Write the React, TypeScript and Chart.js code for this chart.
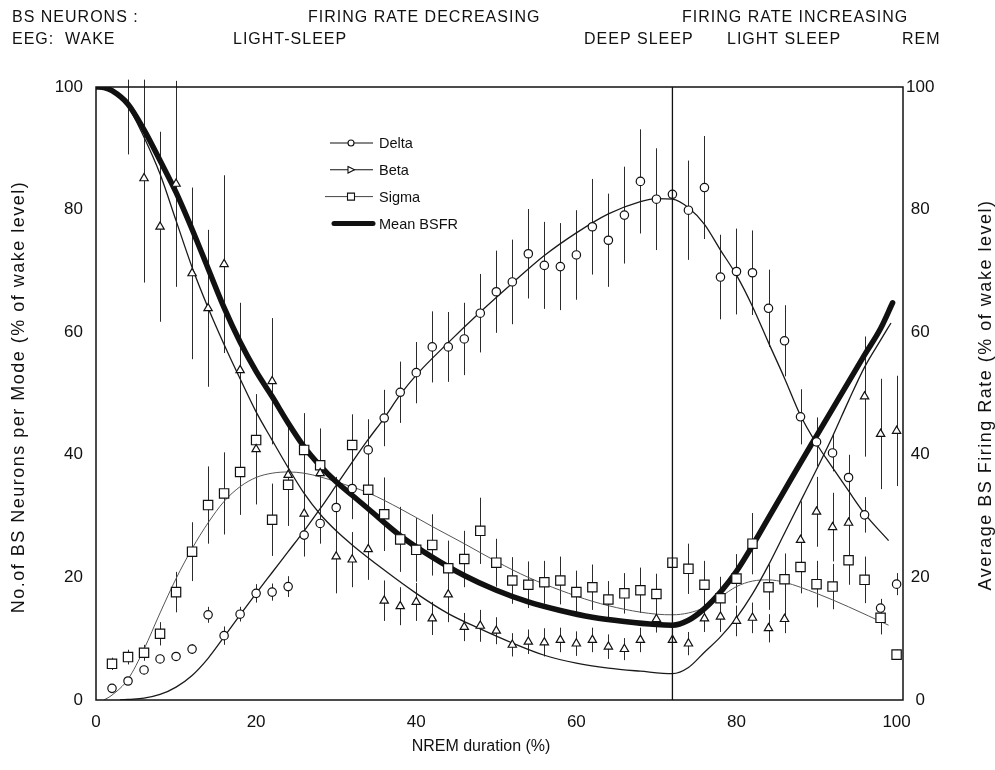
import React, { useEffect, useRef } from 'react';
import { Chart, registerables } from 'chart.js';

Chart.register(...registerables);

const FONT = '"Liberation Sans", Arial, Helvetica, sans-serif';

// NREM duration bins (% of episode)
const nremPct = [
  2, 4, 6, 8, 10, 12, 14, 16, 18, 20, 22, 24, 26, 28, 30, 32, 34, 36, 38, 40, 42, 44, 46, 48, 50,
  52, 54, 56, 58, 60, 62, 64, 66, 68, 70, 72, 74, 76, 78, 80, 82, 84, 86, 88, 90, 92, 94, 96, 98, 100,
];

// Delta-mode neurons (% of wake level) and error
const deltaMean = [
  1.9, 3.1, 4.9, 6.7, 7.1, 8.3, 13.9, 10.5, 14.0, 17.4, 17.6, 18.5, 26.9, 28.8, 31.4, 34.5, 40.8, 46.0, 50.2, 53.4, 57.6, 57.6, 58.9, 63.1, 66.6,
  68.2, 72.8, 70.9, 70.7, 72.6, 77.2, 75.0, 79.1, 84.6, 81.7, 82.5, 79.9, 83.6, 69.0, 69.9, 69.7, 63.9, 58.6, 46.2, 42.1, 40.3, 36.3, 30.2, 15.0, 18.9,
];
const deltaErr = [
  0.5, 0.5, 0.7, 0.7, 0.6, 0.8, 1.3, 1.5, 1.2, 1.5, 1.4, 1.7, 3.3, 3.3, 5.0, 5.0, 5.0, 4.6, 5.0, 5.0, 5.8, 5.7, 5.9, 6.4, 6.7,
  6.9, 7.3, 7.1, 7.1, 7.3, 7.8, 7.6, 7.9, 8.5, 8.3, 8.0, 8.1, 8.4, 6.9, 7.0, 6.9, 6.3, 5.8, 4.5, 4.0, 3.0, 3.7, 2.9, 1.5, 1.8,
];

// Beta-mode neurons
const betaMean = [
  null, 103, 85.1, 77.2, 84.2, 69.6, 63.9, 71.1, 53.8, 40.9, 52.0, 36.7, 30.4, 37.0, 23.4, 22.9, 24.6, 16.2, 15.3, 16.0, 13.3, 17.2, 11.9, 12.1, 11.3,
  9.0, 9.5, 9.4, 9.8, 9.2, 9.8, 8.7, 8.3, 9.8, 13.2, 9.8, 9.2, 13.3, 13.6, 12.9, 13.4, 11.7, 13.2, 26.1, 30.7, 28.2, 28.9, 49.5, 43.4, 43.9,
];
const betaErr = [
  null, 14, 17, 15.5, 16.8, 14, 12.8, 14.5, 11, 9, 10.3, 8.3, 7, 7, 6, 4.5, 5, 3.3, 3.1, 3.1, 2.7, 4.5, 2.3, 2.6, 2.2,
  1.9, 2, 2.3, 2, 2, 2, 2, 1.8, 2, 2.2, 2, 1.9, 2.2, 2.5, 2.5, 2.5, 2.3, 2.3, 6.3, 5.7, 5.6, 4.9, 9.8, 9, 9,
];

// Sigma-mode neurons
const sigmaMean = [
  5.9, 7.0, 7.7, 10.8, 17.6, 24.2, 31.8, 33.7, 37.2, 42.4, 29.4, 35.1, 40.8, 38.3, null, 41.6, 34.3, 30.3, 26.2, 24.5, 25.3, 21.5, 23.0, 27.6, 22.4,
  19.5, 18.8, 19.2, 19.5, 17.6, 18.4, 16.4, 17.4, 17.9, 17.3, 22.4, 21.4, 18.8, 16.6, 19.8, 25.5, 18.4, 19.7, 21.7, 18.9, 18.5, 22.8, 19.6, 13.4, 7.4,
];
const sigmaErr = [
  1, 1.2, 1.3, 1.9, 3.3, 4.8, 6.3, 6.7, 7, 6, 5.9, 6, 6, 6, null, 5, 5, 6, 5.3, 5.2, 5, 4.5, 4.6, 5.4, 3.9,
  3.8, 3.8, 3.5, 3.9, 3.5, 3.7, 3, 3.3, 3.7, 3.3, 5, 4.1, 3.9, 3.5, 4, 5, 3.7, 4.2, 4.3, 3.8, 3.7, 4, 3.8, 2.7, 0.8,
];

// Fitted trends [x, y]
const deltaFit = [
  [3, 0], [4, 0.1], [6, 0.3], [8, 0.9], [10, 2.1], [12, 4], [14, 6.8], [16, 10.3], [18, 13.9], [20, 17.4], [22, 20.8],
  [24, 24.2], [26, 27.6], [28, 31.2], [30, 35], [32, 38.8], [34, 42.5], [36, 46], [38, 49.8], [40, 53], [44, 58.3],
  [48, 63.3], [52, 68], [56, 72.5], [60, 76.2], [64, 79.3], [68, 81.3], [70, 81.8], [72, 81.7], [74, 80.3], [76, 77.6],
  [78, 73.4], [80, 69.3], [82, 64.2], [84, 58.3], [86, 52.5], [88, 46.4], [90, 41.8], [92, 37.9], [94, 34.1], [96, 30.4], [99, 26],
];
const betaFit = [
  [0, 100], [2, 99.2], [4, 96.8], [6, 91.8], [8, 85.8], [10, 78.2], [12, 70.6], [14, 64], [16, 58], [18, 52.4], [20, 47],
  [22, 42.4], [24, 37.9], [26, 33.7], [28, 30.3], [30, 27.6], [32, 25.3], [36, 21.2], [40, 17.4], [44, 14.1], [48, 11.6],
  [52, 9.3], [56, 7.3], [60, 6], [64, 5.2], [68, 4.7], [72, 4.3], [74, 5.3], [76, 7.8], [78, 10.3], [80, 13.4], [82, 17.3],
  [84, 22], [86, 27.2], [88, 32.4], [90, 37.6], [92, 43], [94, 48.8], [96, 54.3], [98, 58.7], [99.3, 61.5],
];
const sigmaFit = [
  [1, 0], [2, 0.8], [4, 3.4], [6, 8.3], [8, 14.2], [10, 19.8], [12, 24.7], [14, 28.9], [16, 32.4], [18, 34.8], [20, 36.3],
  [22, 37], [24, 37.2], [26, 37], [28, 36.4], [30, 35.6], [34, 33.8], [38, 31.2], [42, 28.3], [46, 25.5], [50, 22.6],
  [54, 20], [58, 17.9], [62, 16.1], [66, 14.8], [70, 14], [72, 13.9], [74, 14.2], [76, 15.1], [78, 16.8], [80, 18.5],
  [82, 19.4], [84, 19.6], [86, 19.2], [90, 17.4], [94, 15.2], [99, 12.2],
];
// Mean brainstem firing rate (% of wake level)
const bsfrFit = [
  [0, 100], [1, 99.9], [2, 99.4], [4, 97.2], [6, 93], [8, 88], [10, 82.8], [12, 76.8], [14, 70.4], [16, 64], [18, 58.4],
  [20, 53.6], [22, 49.5], [24, 45.2], [26, 41.3], [28, 38.2], [30, 35.6], [32, 33.4], [34, 31.2], [38, 26.8], [42, 23.3],
  [46, 20.3], [50, 17.9], [54, 16], [58, 14.6], [62, 13.5], [66, 12.8], [70, 12.3], [72, 12.2], [74, 13], [76, 14.9],
  [78, 17.6], [80, 21], [82, 25.2], [84, 29.7], [86, 34.2], [88, 38.7], [90, 43.1], [92, 47.5], [94, 51.9], [96, 56.3],
  [98, 60.6], [99.5, 64.8],
];

const stageBoundary = 72;
const yTicks = [0, 20, 40, 60, 80, 100];

const headerRows = [
  [
    { text: 'BS NEURONS :', x: 12 },
    { text: 'FIRING RATE DECREASING', x: 308 },
    { text: 'FIRING RATE INCREASING', x: 682 },
  ],
  [
    { text: 'EEG:', x: 12 },
    { text: 'WAKE', x: 65 },
    { text: 'LIGHT-SLEEP', x: 233 },
    { text: 'DEEP SLEEP', x: 584 },
    { text: 'LIGHT SLEEP', x: 727 },
    { text: 'REM', x: 902 },
  ],
];

const legendItems = [
  { label: 'Delta', marker: 'circle' },
  { label: 'Beta', marker: 'triangleRight' },
  { label: 'Sigma', marker: 'square' },
  { label: 'Mean BSFR', marker: 'thick' },
];

const toPoints = (ys: (number | null)[]) => nremPct.map((x, i) => ({ x, y: ys[i] }));
const toXY = (pairs: number[][]) => pairs.map(([x, y]) => ({ x, y }));

const errorBars = {
  id: 'errorBars',
  beforeDatasetsDraw(chart: any) {
    const { ctx, chartArea, scales } = chart;
    const x = scales.x;
    const y = scales.y;
    const capTop = y.getPixelForValue(101.2);
    ctx.save();
    ctx.strokeStyle = '#2b2b2b';
    ctx.lineWidth = 1;
    chart.data.datasets.forEach((ds: any) => {
      if (!ds.errors) return;
      ds.data.forEach((p: any, i: number) => {
        const e = ds.errors[i];
        if (p.y == null || e == null) return;
        const px = Math.round(x.getPixelForValue(p.x)) + 0.5;
        const top = Math.max(y.getPixelForValue(p.y + e), capTop);
        const bot = Math.min(y.getPixelForValue(p.y - e), chartArea.bottom);
        if (top >= bot) return;
        ctx.beginPath();
        ctx.moveTo(px, top);
        ctx.lineTo(px, bot);
        ctx.stroke();
      });
    });
    ctx.restore();
  },
};

function drawText(ctx: CanvasRenderingContext2D, text: string, x: number, cy: number, size: number, opts: any = {}) {
  ctx.save();
  ctx.font = `${size}px ${FONT}`;
  ctx.fillStyle = '#111';
  (ctx as any).letterSpacing = opts.spacing || '0px';
  ctx.textAlign = opts.align || 'left';
  ctx.textBaseline = 'alphabetic';
  ctx.translate(x, cy);
  if (opts.rotate) ctx.rotate(opts.rotate);
  ctx.fillText(text, 0, size * 0.358);
  ctx.restore();
}

const decorations = {
  id: 'decorations',
  afterDraw(chart: any) {
    const { ctx, chartArea, scales } = chart;
    const x = scales.x;
    const { left, right, top, bottom } = chartArea;

    ctx.save();
    // frame
    ctx.strokeStyle = '#111';
    ctx.lineWidth = 1.5;
    ctx.strokeRect(left, top, right - left, bottom - top);
    // sleep-stage boundary
    const bx = x.getPixelForValue(stageBoundary);
    ctx.lineWidth = 1.3;
    ctx.beginPath();
    ctx.moveTo(bx, top);
    ctx.lineTo(bx, bottom);
    ctx.stroke();
    ctx.restore();

    // header rows
    headerRows.forEach((row, r) => {
      row.forEach((item) => drawText(ctx, item.text, item.x, r === 0 ? 16 : 38, 16, { spacing: '1px' }));
    });

    // axis titles
    drawText(ctx, 'NREM duration (%)', 481, 745, 16, { align: 'center' });
    drawText(ctx, 'No.of BS Neurons per Mode (% of wake level)', 18, 397, 18, { align: 'center', rotate: -Math.PI / 2, spacing: '1.5px' });
    drawText(ctx, 'Average BS Firing Rate (% of wake level)', 985, 395, 18, { align: 'center', rotate: -Math.PI / 2, spacing: '1.5px' });

    // legend
    const lx0 = 330;
    const lx1 = 373;
    const markX = 351;
    legendItems.forEach((item, i) => {
      const ly = 143 + i * 26.8;
      ctx.save();
      ctx.strokeStyle = '#111';
      ctx.fillStyle = '#fff';
      if (item.marker === 'thick') {
        ctx.lineWidth = 5;
        ctx.lineCap = 'round';
        ctx.beginPath();
        ctx.moveTo(lx0 + 4, ly);
        ctx.lineTo(lx1, ly);
        ctx.stroke();
      } else {
        ctx.lineWidth = item.marker === 'square' ? 1 : 1.1;
        if (item.marker === 'square') ctx.strokeStyle = '#444';
        ctx.beginPath();
        ctx.moveTo(item.marker === 'square' ? lx0 - 5 : lx0, ly);
        ctx.lineTo(lx1, ly);
        ctx.stroke();
        ctx.strokeStyle = '#111';
        ctx.lineWidth = 1.1;
        ctx.beginPath();
        if (item.marker === 'circle') {
          ctx.arc(markX, ly, 3, 0, Math.PI * 2);
        } else if (item.marker === 'triangleRight') {
          ctx.moveTo(markX - 3, ly - 3.2);
          ctx.lineTo(markX + 3.5, ly);
          ctx.lineTo(markX - 3, ly + 3.2);
          ctx.closePath();
        } else {
          ctx.rect(markX - 3.5, ly - 3.5, 7, 7);
        }
        ctx.fill();
        ctx.stroke();
      }
      ctx.restore();
      drawText(ctx, item.label, 379, ly, 14.5);
    });
  },
};

const markerStyle = {
  showLine: false,
  backgroundColor: '#ffffff',
  borderColor: '#111111',
  pointBorderWidth: 1.2,
  pointBackgroundColor: '#ffffff',
  pointBorderColor: '#111111',
};

const fitStyle = {
  showLine: true,
  pointRadius: 0,
  pointHoverRadius: 0,
  fill: false,
  cubicInterpolationMode: 'monotone' as const,
};

export default function App() {
  const canvasRef = useRef<HTMLCanvasElement | null>(null);

  useEffect(() => {
    const canvas = canvasRef.current;
    if (!canvas) return;
    const tickFont = { family: FONT, size: 17 };
    const chart = new Chart(canvas, {
      type: 'scatter',
      data: {
        datasets: [
          { label: 'Delta', data: toPoints(deltaMean), errors: deltaErr, pointStyle: 'circle', pointRadius: 4.2, ...markerStyle } as any,
          { label: 'Beta', data: toPoints(betaMean), errors: betaErr, pointStyle: 'triangle', pointRadius: 4.8, ...markerStyle } as any,
          { label: 'Sigma', data: toPoints(sigmaMean), errors: sigmaErr, pointStyle: 'rect', pointRadius: 6.6, ...markerStyle } as any,
          { label: 'Mean BSFR', data: toXY(bsfrFit), yAxisID: 'y2', borderColor: '#111', borderWidth: 5.5, borderCapStyle: 'round', ...fitStyle } as any,
          { label: 'Delta fit', data: toXY(deltaFit), borderColor: '#1a1a1a', borderWidth: 1.3, ...fitStyle } as any,
          { label: 'Beta fit', data: toXY(betaFit), borderColor: '#1a1a1a', borderWidth: 1.3, ...fitStyle } as any,
          { label: 'Sigma fit', data: toXY(sigmaFit), borderColor: '#555', borderWidth: 1, ...fitStyle } as any,
        ],
      },
      options: {
        responsive: false,
        animation: false,
        devicePixelRatio: 1,
        layout: { padding: { top: 87, left: 0, right: 0, bottom: 0 } },
        plugins: {
          legend: { display: false },
          tooltip: { enabled: false },
        },
        scales: {
          x: {
            type: 'linear',
            min: 0,
            max: 100.8,
            afterFit: (s: any) => { s.height = 70; },
            grid: { display: false, drawTicks: false },
            border: { display: false },
            ticks: { stepSize: 20, includeBounds: false, font: tickFont, color: '#111', padding: 12, maxRotation: 0 },
          },
          y: {
            type: 'linear',
            position: 'left',
            min: 0,
            max: 100,
            afterFit: (s: any) => { s.width = 96; },
            afterBuildTicks: (s: any) => { s.ticks = yTicks.map((v) => ({ value: v })); },
            grid: { display: false, drawTicks: false },
            border: { display: false },
            ticks: { font: tickFont, color: '#111', padding: 13 },
          },
          y2: {
            type: 'linear',
            position: 'right',
            min: 0,
            max: 100,
            afterFit: (s: any) => { s.width = 92; },
            afterBuildTicks: (s: any) => { s.ticks = yTicks.map((v) => ({ value: v })); },
            grid: { display: false, drawTicks: false },
            border: { display: false },
            ticks: { font: tickFont, color: '#111', padding: 3, crossAlign: 'center' },
          },
        },
      } as any,
      plugins: [errorBars, decorations],
    });
    return () => chart.destroy();
  }, []);

  return (
    <div style={{ position: 'fixed', left: 0, top: 0, width: 995, height: 770, background: '#fff' }}>
      <canvas ref={canvasRef} width={995} height={770} style={{ display: 'block' }} />
    </div>
  );
}
